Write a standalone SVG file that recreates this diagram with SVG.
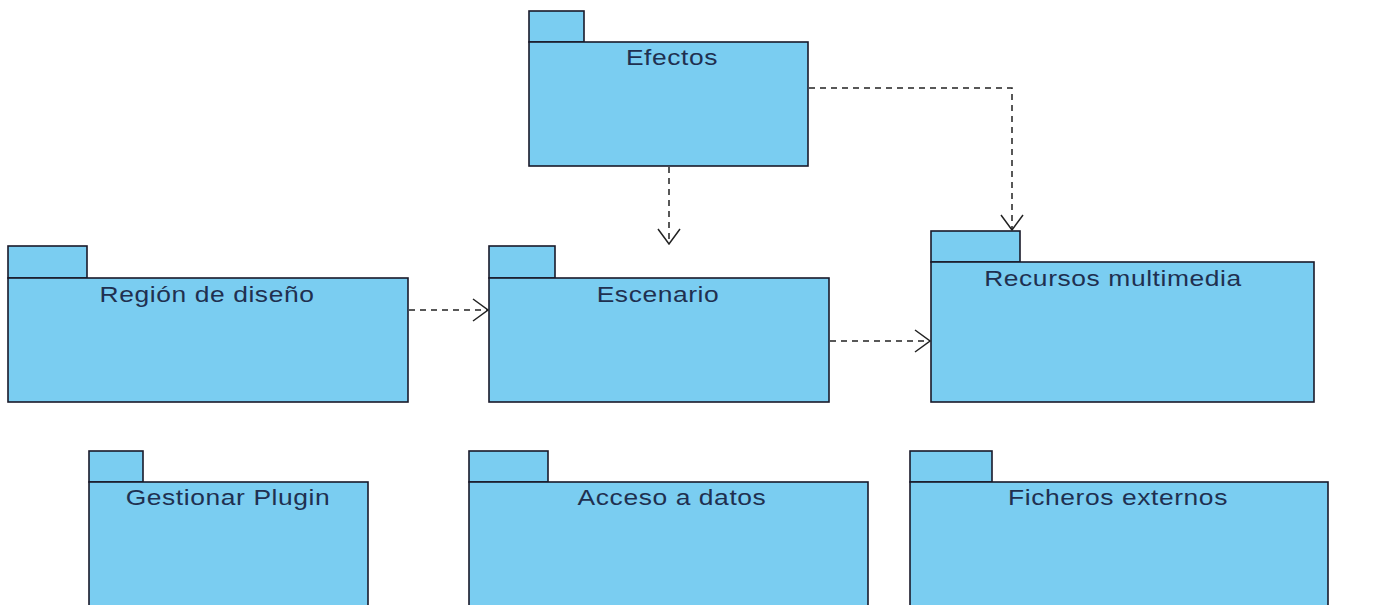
<svg xmlns="http://www.w3.org/2000/svg" width="1398" height="605" viewBox="0 0 1398 605">
<style>
.pk{fill:#7acdf1;stroke:#1a1a2a;stroke-width:1.6}
.lb{font-family:"Liberation Sans",Arial,sans-serif;font-size:22px;letter-spacing:0.5px;fill:#1f3050;text-anchor:middle}
.dep{fill:none;stroke:#222;stroke-width:1.5;stroke-dasharray:6,5}
</style>
<defs>
<marker id="open" viewBox="0 0 20 24" refX="19" refY="12" markerWidth="20" markerHeight="24" markerUnits="userSpaceOnUse" orient="auto">
<path d="M4,1 L19,12 L4,23" fill="none" stroke="#222" stroke-width="1.5"/>
</marker>
</defs>
<rect width="1398" height="605" fill="#fff"/>
<g id="efectos"><rect class="pk" x="529" y="11" width="55" height="31"/><rect class="pk" x="529" y="42" width="279" height="124"/><text class="lb" transform="translate(672,65) scale(1.2,1)">Efectos</text></g>
<g id="region"><rect class="pk" x="8" y="246" width="79" height="32"/><rect class="pk" x="8" y="278" width="400" height="124"/><text class="lb" transform="translate(207,302) scale(1.2,1)">Región de diseño</text></g>
<g id="escenario"><rect class="pk" x="489" y="246" width="66" height="32"/><rect class="pk" x="489" y="278" width="340" height="124"/><text class="lb" transform="translate(658,302) scale(1.2,1)">Escenario</text></g>
<g id="recursos"><rect class="pk" x="931" y="231" width="89" height="31"/><rect class="pk" x="931" y="262" width="383" height="140"/><text class="lb" transform="translate(1113,286) scale(1.2,1)">Recursos multimedia</text></g>
<g id="plugin"><rect class="pk" x="89" y="451" width="54" height="31"/><rect class="pk" x="89" y="482" width="279" height="130"/><text class="lb" transform="translate(228,505) scale(1.2,1)">Gestionar Plugin</text></g>
<g id="acceso"><rect class="pk" x="469" y="451" width="79" height="31"/><rect class="pk" x="469" y="482" width="399" height="130"/><text class="lb" transform="translate(672,505) scale(1.2,1)">Acceso a datos</text></g>
<g id="ficheros"><rect class="pk" x="910" y="451" width="82" height="31"/><rect class="pk" x="910" y="482" width="418" height="130"/><text class="lb" transform="translate(1118,505) scale(1.2,1)">Ficheros externos</text></g>
<g id="connectors">
<path class="dep" d="M669,167 L669,244" marker-end="url(#open)"/>
<path class="dep" d="M809,88 L1012,88 L1012,230" marker-end="url(#open)"/>
<path class="dep" d="M409,310 L488,310" marker-end="url(#open)"/>
<path class="dep" d="M830,341 L930,341" marker-end="url(#open)"/>
</g>
</svg>
